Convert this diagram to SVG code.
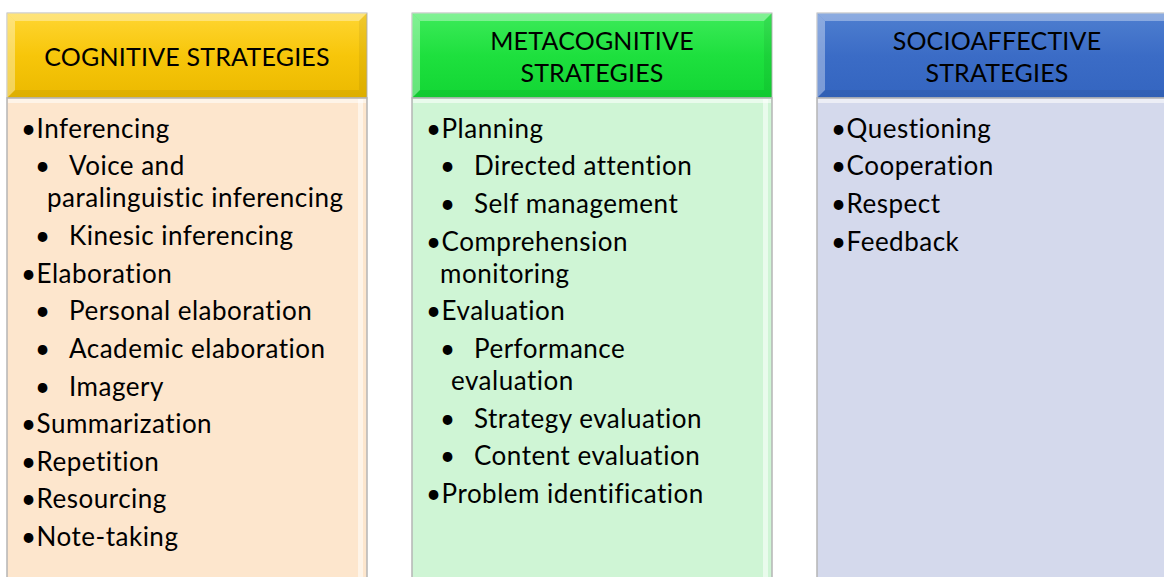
<svg xmlns="http://www.w3.org/2000/svg" width="1164" height="577" viewBox="0 0 1164 577">
<defs>
<linearGradient id="gGold" x1="0" y1="0" x2="0" y2="1">
<stop offset="0" stop-color="#ffd633"/><stop offset="0.5" stop-color="#f7c60a"/><stop offset="1" stop-color="#ebb900"/>
</linearGradient>
<linearGradient id="gGreen" x1="0" y1="0" x2="0" y2="1">
<stop offset="0" stop-color="#3deb5a"/><stop offset="0.5" stop-color="#1ee03e"/><stop offset="1" stop-color="#12d634"/>
</linearGradient>
<linearGradient id="gBlue" x1="0" y1="0" x2="0" y2="1">
<stop offset="0" stop-color="#4f7fd0"/><stop offset="0.5" stop-color="#3b6cc6"/><stop offset="1" stop-color="#3465c0"/>
</linearGradient>
</defs>
<style>
.hdrframe{stroke:#b8b8b8;stroke-width:1}
.body{stroke:#b5b5b5;stroke-width:1.5}
.bevT{fill:#ffffff;fill-opacity:0.35}
.bevD{fill:#000000;fill-opacity:0.06}
.hl{fill:#ffffff;fill-opacity:0.55}
text{font-family:Lato,"Liberation Sans",sans-serif;fill:#000}
.ht{font-size:25px;letter-spacing:0.2px;text-anchor:middle}
.it{font-size:26px;letter-spacing:0.5px}
</style>
<g id="cognitive">
<rect class="hdrframe" x="7" y="13" width="360" height="85" fill="url(#gGold)"/>
<polygon class="bevT" points="7,13 367,13 359,21 15,21"/>
<polygon class="bevT" points="7,13 15,21 15,90 7,98"/>
<polygon class="bevD" points="367,13 367,98 359,90 359,21"/>
<polygon class="bevD" points="7,98 367,98 359,90 15,90"/>
<rect class="body" x="7" y="98" width="360" height="490" fill="#fde6cd"/>
<rect class="hl" x="8" y="99" width="358" height="4"/>
<rect class="hl" x="358" y="99" width="5" height="489"/>
<text class="ht" x="187" y="66">COGNITIVE STRATEGIES</text>
<text class="it" x="21" y="138">•Inferencing</text>
<text class="it" x="35" y="175">•</text><text class="it" x="69" y="175">Voice and</text>
<text class="it" x="47" y="207">paralinguistic inferencing</text>
<text class="it" x="35" y="245">•</text><text class="it" x="69" y="245">Kinesic inferencing</text>
<text class="it" x="21" y="283">•Elaboration</text>
<text class="it" x="35" y="320">•</text><text class="it" x="69" y="320">Personal elaboration</text>
<text class="it" x="35" y="358">•</text><text class="it" x="69" y="358">Academic elaboration</text>
<text class="it" x="35" y="396">•</text><text class="it" x="69" y="396">Imagery</text>
<text class="it" x="21" y="433">•Summarization</text>
<text class="it" x="21" y="471">•Repetition</text>
<text class="it" x="21" y="508">•Resourcing</text>
<text class="it" x="21" y="546">•Note-taking</text>
</g>
<g id="metacognitive">
<rect class="hdrframe" x="412" y="13" width="360" height="85" fill="url(#gGreen)"/>
<polygon class="bevT" points="412,13 772,13 764,21 420,21"/>
<polygon class="bevT" points="412,13 420,21 420,90 412,98"/>
<polygon class="bevD" points="772,13 772,98 764,90 764,21"/>
<polygon class="bevD" points="412,98 772,98 764,90 420,90"/>
<rect class="body" x="412" y="98" width="360" height="490" fill="#cff5d5"/>
<rect class="hl" x="413" y="99" width="358" height="4"/>
<rect class="hl" x="763" y="99" width="5" height="489"/>
<text class="ht" x="592" y="50">METACOGNITIVE</text>
<text class="ht" x="592" y="82">STRATEGIES</text>
<text class="it" x="426" y="138">•Planning</text>
<text class="it" x="440" y="175">•</text><text class="it" x="474" y="175">Directed attention</text>
<text class="it" x="440" y="213">•</text><text class="it" x="474" y="213">Self management</text>
<text class="it" x="426" y="251">•Comprehension</text>
<text class="it" x="440" y="283">monitoring</text>
<text class="it" x="426" y="320">•Evaluation</text>
<text class="it" x="440" y="358">•</text><text class="it" x="474" y="358">Performance</text>
<text class="it" x="451" y="390">evaluation</text>
<text class="it" x="440" y="428">•</text><text class="it" x="474" y="428">Strategy evaluation</text>
<text class="it" x="440" y="465">•</text><text class="it" x="474" y="465">Content evaluation</text>
<text class="it" x="426" y="503">•Problem identification</text>
</g>
<g id="socioaffective">
<rect class="hdrframe" x="817" y="13" width="360" height="85" fill="url(#gBlue)"/>
<polygon class="bevT" points="817,13 1177,13 1169,21 825,21"/>
<polygon class="bevT" points="817,13 825,21 825,90 817,98"/>
<polygon class="bevD" points="817,98 1177,98 1169,90 825,90"/>
<rect class="body" x="817" y="98" width="360" height="490" fill="#d4d9ec"/>
<rect class="hl" x="818" y="99" width="358" height="4"/>
<text class="ht" x="997" y="50">SOCIOAFFECTIVE</text>
<text class="ht" x="997" y="82">STRATEGIES</text>
<text class="it" x="831" y="138">•Questioning</text>
<text class="it" x="831" y="175">•Cooperation</text>
<text class="it" x="831" y="213">•Respect</text>
<text class="it" x="831" y="251">•Feedback</text>
</g>
<g id="connectors"/>
</svg>
